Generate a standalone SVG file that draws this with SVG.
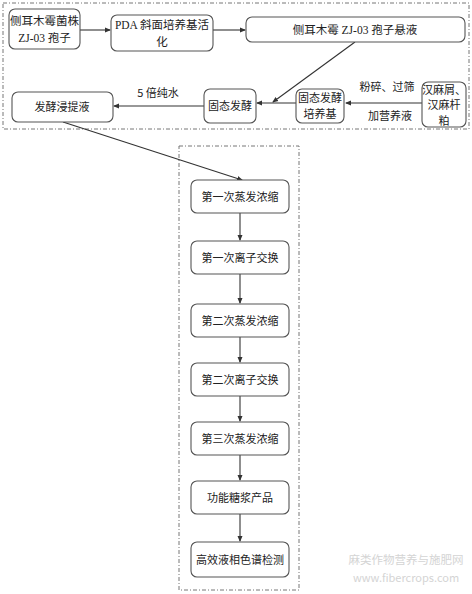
<svg xmlns="http://www.w3.org/2000/svg" width="472" height="594" viewBox="0 0 472 594">
<defs>
<marker id="ah" markerWidth="6" markerHeight="6" refX="5" refY="3" orient="auto" markerUnits="userSpaceOnUse">
<path d="M0,0.5 L6,3 L0,5.5 Z" fill="#333"/>
</marker>
<style>
.frame{fill:none;stroke:#777;stroke-width:1;stroke-dasharray:4 2 1 2}
.box{fill:#fff;stroke:#555;stroke-width:1.1}
.t{font-family:"Liberation Serif","Noto Sans CJK SC",serif;font-size:11.5px;fill:#222;text-anchor:middle}
.s{font-family:"Noto Sans CJK SC",sans-serif;font-size:11px;fill:#222;text-anchor:middle}
.c{fill:none;stroke:#333;stroke-width:1.1;marker-end:url(#ah)}
.wm{font-family:"Noto Sans CJK SC",sans-serif;fill:#d4d4d4;text-anchor:middle}
</style>
</defs>
<rect class="frame" x="3" y="3" width="466" height="126"/>
<rect class="frame" x="179" y="146" width="120" height="444"/>
<g id="connectors">
<line class="c" x1="80" y1="30" x2="110" y2="30"/>
<line class="c" x1="213" y1="30" x2="245" y2="30"/>
<line class="c" x1="355" y1="42" x2="273" y2="102"/>
<line class="c" x1="422" y1="103" x2="346" y2="103"/>
<line class="c" x1="296" y1="103" x2="257" y2="103"/>
<line class="c" x1="204" y1="106" x2="114" y2="106"/>
<line class="c" x1="63" y1="122" x2="242" y2="180"/>
<line class="c" x1="240" y1="213" x2="240" y2="240"/>
<line class="c" x1="240" y1="274" x2="240" y2="303"/>
<line class="c" x1="240" y1="337" x2="240" y2="362"/>
<line class="c" x1="240" y1="396" x2="240" y2="421"/>
<line class="c" x1="240" y1="455" x2="240" y2="480"/>
<line class="c" x1="240" y1="514" x2="240" y2="541"/>
</g>
<g id="n1"><rect class="box" x="9" y="9" width="71" height="40" rx="6"/><text class="t" x="44.5" y="25">侧耳木霉菌株</text><text class="t" x="44.5" y="42">ZJ-03 孢子</text></g>
<g id="n2"><rect class="box" x="111" y="15" width="102" height="36" rx="6"/><text class="t" x="162" y="29">PDA 斜面培养基活</text><text class="t" x="162" y="46">化</text></g>
<g id="n3"><rect class="box" x="246" y="17" width="219" height="25" rx="6"/><text class="t" x="355" y="34">侧耳木霉 ZJ-03 孢子悬液</text></g>
<g id="n4"><rect class="box" x="422" y="82" width="44" height="45" rx="6"/><text class="s" x="444" y="93.5" font-size="10">汉麻屑、</text><text class="s" x="444" y="109" font-size="10">汉麻杆</text><text class="s" x="444" y="124.5" font-size="10">粕</text></g>
<g id="n5"><rect class="box" x="296" y="89" width="48" height="34" rx="6"/><text class="s" x="320" y="102">固态发酵</text><text class="s" x="320" y="118">培养基</text></g>
<g id="n6"><rect class="box" x="204" y="89" width="52" height="34" rx="6"/><text class="s" x="230" y="110">固态发酵</text></g>
<g id="n7"><rect class="box" x="12" y="92" width="101" height="30" rx="6"/><text class="s" x="62" y="111">发酵浸提液</text></g>
<g id="labels">
<text class="s" x="387" y="91">粉碎、过筛</text>
<text class="s" x="390" y="120">加营养液</text>
<text class="s" x="158" y="97">5 倍纯水</text>
</g>
<g id="b1"><rect class="box" x="191" y="180" width="98" height="33" rx="6"/><text class="s" x="240" y="201">第一次蒸发浓缩</text></g>
<g id="b2"><rect class="box" x="191" y="241" width="98" height="33" rx="6"/><text class="s" x="240" y="262">第一次离子交换</text></g>
<g id="b3"><rect class="box" x="191" y="304" width="98" height="33" rx="6"/><text class="s" x="240" y="325">第二次蒸发浓缩</text></g>
<g id="b4"><rect class="box" x="191" y="363" width="98" height="33" rx="6"/><text class="s" x="240" y="384">第二次离子交换</text></g>
<g id="b5"><rect class="box" x="191" y="422" width="98" height="33" rx="6"/><text class="s" x="240" y="443">第三次蒸发浓缩</text></g>
<g id="b6"><rect class="box" x="191" y="481" width="98" height="33" rx="6"/><text class="s" x="240" y="502">功能糖浆产品</text></g>
<g id="b7"><rect class="box" x="191" y="542" width="98" height="35" rx="6"/><text class="s" x="240" y="564">高效液相色谱检测</text></g>
<g id="watermark">
<text class="wm" x="406" y="564" font-size="11.5">麻类作物营养与施肥网</text>
<text class="wm" x="406" y="582" font-size="11">www.fibercrops.com</text>
</g>
</svg>
